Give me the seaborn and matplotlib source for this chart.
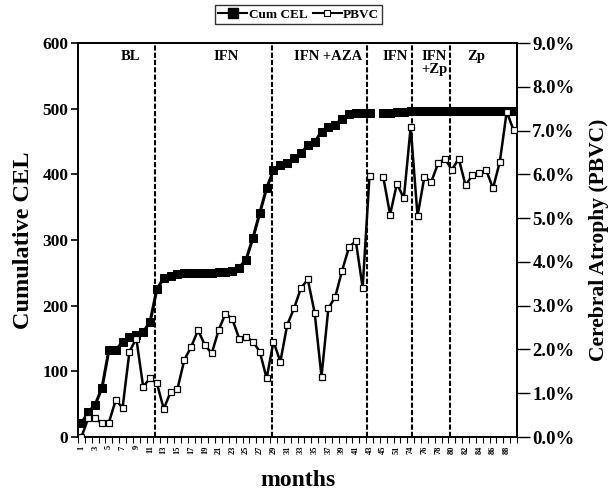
import matplotlib
matplotlib.use("Agg")
import matplotlib.pyplot as plt
from matplotlib.lines import Line2D
import numpy as np
import pandas as pd
import seaborn as sns

# one entry per MRI scan (64 scans), every other scan labelled with its month
scan = np.arange(64)
month_labels = [str(m) for m in range(1, 46, 2)] + ["51"] + [str(m) for m in range(74, 89, 2)]

cum_cel = [21, 38, 49, 75, 132, 132, 145, 152, 155, 160,
           175, 225, 242, 245, 248, 249, 250, 250, 250, 250,
           251, 252, 253, 258, 270, 303, 341, 379, 406, 414,
           417, 425, 432, 444, 449, 465, 472, 475, 485, 492,
           494, 494, 494, np.nan, 494, 494, 495, 495, 496, 496,
           496, 497, 497, 497, 497, 497, 497, 497, 497, 497,
           497, 497, 497, 497]

pbvc = [0.00, 0.43, 0.43, 0.31, 0.33, 0.84, 0.67, 1.95, 2.25, 1.15,
        1.34, 1.23, 0.64, 1.03, 1.10, 1.76, 2.06, 2.44, 2.10, 1.91,
        2.44, 2.82, 2.69, 2.25, 2.29, 2.18, 1.95, 1.34, 2.18, 1.72,
        2.56, 2.94, 3.40, 3.60, 2.84, 1.38, 2.94, 3.20, 3.80, 4.33,
        4.48, 3.41, 5.97, np.nan, 5.94, 5.08, 5.79, 5.45, 7.08, 5.05,
        5.94, 5.83, 6.25, 6.36, 6.10, 6.36, 5.75, 5.98, 6.02, 6.10,
        5.68, 6.29, 7.43, 7.01]

# the gap after scan 43 splits both series
segment = [0] * 43 + [1] * 21

phase_bounds = [10.73, 27.78, 41.6, 48.16, 53.7]
phase_names = ["BL", "IFN", "IFN +AZA", "IFN", "IFN\n+Zp", "Zp"]
phase_pos = [7.1, 21.1, 36.0, 45.7, 51.4, 57.6]

df = pd.DataFrame({"scan": scan, "cel": cum_cel, "pbvc": pbvc, "seg": segment})

serif = "Liberation Serif"
plt.rcParams["font.family"] = serif
plt.rcParams["font.weight"] = "bold"

fig = plt.figure(figsize=(6.16, 4.93), dpi=100)
ax = fig.add_axes([78 / 616, 1 - 437 / 493, 439 / 616, 394 / 493])
ax2 = ax.twinx()

sns.lineplot(data=df.dropna(subset=["cel"]), x="scan", y="cel", units="seg", estimator=None,
             ax=ax, color="black", lw=2.2, marker="s", markersize=5.8,
             markerfacecolor="black", markeredgecolor="black", zorder=3)
sns.lineplot(data=df.dropna(subset=["pbvc"]), x="scan", y="pbvc", units="seg", estimator=None,
             ax=ax2, color="black", lw=1.8, marker="s", markersize=4.6,
             markerfacecolor="white", markeredgecolor="black", markeredgewidth=0.9, zorder=3)

for xb in phase_bounds:
    ax.axvline(xb, color="black", lw=1.5, ls=(0, (2.5, 1)), zorder=2)
for name, xp in zip(phase_names, phase_pos):
    ax.text(xp, 589, name, ha="center", va="top", fontsize=10.5, fontweight="bold",
            family=serif, linespacing=0.95, clip_on=True)

ax.set_xlim(-0.5, 63.5)
ax.set_ylim(0, 600)
ax2.set_ylim(0, 9)

ax.set_yticks(range(0, 601, 100))
ax.set_yticklabels([str(v) for v in range(0, 601, 100)], fontsize=12.5, fontweight="bold")
ax2.set_yticks(range(0, 10))
ax2.set_yticklabels([f"{v:.1f}%" for v in range(0, 10)], fontsize=13.5, fontweight="bold")

ax.set_xticks(scan[::2])
ax.set_xticklabels(month_labels, rotation=90, fontsize=6, fontweight="bold")
ax.set_xticks(np.arange(-0.5, 64, 1), minor=True)
ax.tick_params(axis="x", which="major", length=0, pad=6)
ax.tick_params(axis="x", which="minor", length=4, width=0.8, direction="out")
ax.tick_params(axis="y", length=5, width=1.2, direction="out", pad=2)
ax2.tick_params(axis="y", length=9, width=1.0, direction="out", pad=2)

ax.set_xlabel("months", fontsize=17, fontweight="bold", labelpad=12)
ax.set_ylabel("Cumulative CEL", fontsize=17.5, fontweight="bold", labelpad=6)
ax2.set_ylabel("Cerebral Atrophy (PBVC)", fontsize=15.5, fontweight="bold", labelpad=10)

for a in (ax, ax2):
    for sp in a.spines.values():
        sp.set_linewidth(1.3)
        sp.set_color("black")

handles = [
    Line2D([], [], color="black", lw=1.5, marker="s", markersize=7, markerfacecolor="black"),
    Line2D([], [], color="black", lw=1.5, marker="s", markersize=4,
           markerfacecolor="white", markeredgewidth=0.8),
]
fig.legend(handles, ["Cum CEL", "PBVC"], loc="center", bbox_to_anchor=(0.485, 0.97),
           ncol=2, frameon=True, fancybox=False, edgecolor="black",
           handlelength=2.2, handletextpad=0.1, columnspacing=0.4, borderpad=0.25,
           prop={"family": serif, "weight": "bold", "size": 9.5})

fig.savefig("out.png", dpi=100, facecolor="white")
